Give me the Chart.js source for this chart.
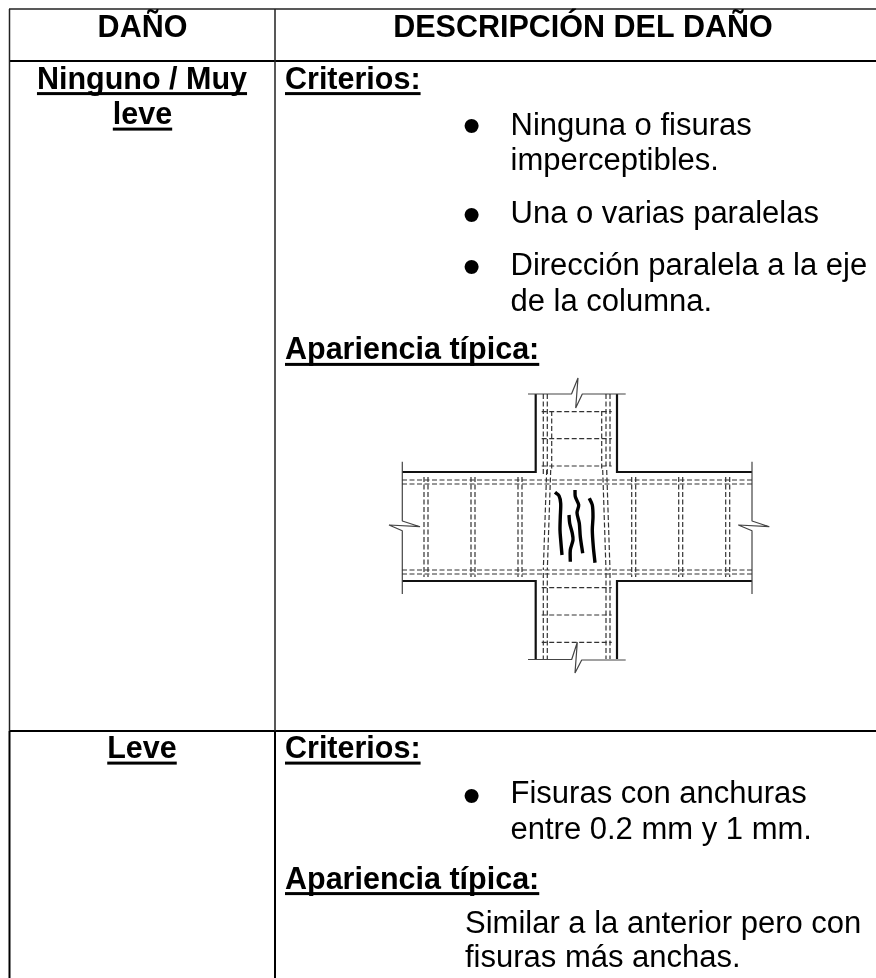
<!DOCTYPE html>
<html><head><meta charset="utf-8">
<style>html,body{margin:0;padding:0;background:#fff}#w{position:absolute;left:0;top:0;width:876px;height:978px}</style>
<script src="https://cdn.jsdelivr.net/npm/chart.js@4"></script></head>
<body><div id="w"><canvas id="c" width="876" height="978"></canvas></div>
<script>
// Table rules
const tableRulesHeavy = [
  [[9,61],[876,61]], [[9,731],[876,731]],
  [[9.5,731],[9.5,978]], [[275,731],[275,978]]
];
const tableRulesLight = [
  [[9,9],[876,9]], [[9.5,9],[9.5,731]], [[275,9],[275,731]]
];
// Thick concrete outline of the joint
const outlineThick = [
  [[402,472],[535.7,472],[535.7,394]],
  [[617,394],[617,472],[752,472]],
  [[402,581],[535.7,581],[535.7,659]],
  [[617,659],[617,581],[752,581]]
];
// Thin break lines
const breakLines = [
  [[528,394],[571.5,394],[578,378],[575.7,408],[582.3,394],[625.7,394]],
  [[528,659.5],[571.7,659.5],[577.3,642.3],[575,673],[581.7,660],[625.7,660]],
  [[402.3,461.7],[402.3,521],[420,526.7],[389,525],[402.3,530.7],[402.3,594]],
  [[752,461.7],[752,521],[769.3,526.7],[738.3,525],[752,530.7],[752,594]]
];
// Dashed reinforcement
const rebarDashed = [
  [[402,480],[752,480]],[[402,484],[752,484]],[[402,570],[752,570]],[[402,574],[752,574]],
  [[424,477],[424,577]],[[428,477],[428,577]],[[471,477],[471,577]],[[475,477],[475,577]],
  [[518,477],[518,577]],[[522,477],[522,577]],[[631.7,477],[631.7,577]],[[635.7,477],[635.7,577]],
  [[678.7,477],[678.7,577]],[[682.7,477],[682.7,577]],[[725.7,477],[725.7,577]],[[729.7,477],[729.7,577]],
  [[543.3,394],[543.3,476]],[[547.3,394],[547.3,476]],[[551.7,411],[551.7,470]],
  [[601.7,411],[601.7,470]],[[606,394],[606,466]],[[610,394],[610,466]],
  [[546.7,470],[543.3,570]],[[550.7,470],[547.3,570]],[[602.7,470],[606,570]],[[606.7,470],[610,570]],
  [[543.3,573],[543.3,659]],[[547.3,573],[547.3,659]],[[606,573],[606,659]],[[610,573],[610,659]],
  [[541.7,411.7],[611.7,411.7]],[[541.7,438.7],[611.7,438.7]],[[541.7,466],[611.7,466]],
  [[541.7,587.7],[611.7,587.7]],[[541.7,615],[611.7,615]],[[541.7,642.3],[611.7,642.3]]
];
// Hand-drawn cracks
const cracks = [
  [[555,492.3],[559,495.7],[560.7,503.3],[560.3,516.7],[560,530],[560.7,540],[562,555]],
  [[569,515],[569.7,523.3],[572.3,533.3],[573,540],[570.3,550],[570.3,561.7]],
  [[575,490],[575.3,496.7],[578.7,505],[577,512.7],[579.3,523.3],[580.3,536.7],[582.7,553.3]],
  [[589.3,498.3],[592.3,505],[593,516.7],[592.3,530],[593.3,546.7],[595,562.7]]
];
// Text content
const headerTexts = ["DAÑO","DESCRIPCIÓN DEL DAÑO"];
const damageLabels = ["Ninguno / Muy","leve","Leve"];
const sectionLabels = ["Criterios:","Apariencia típica:"];
const bodyLines = ["Ninguna o fisuras","imperceptibles.","Una o varias paralelas","Dirección paralela a la eje","de la columna.","Fisuras con anchuras","entre 0.2 mm y 1 mm.","Similar a la anterior pero con","fisuras más anchas."];
const bulletMark = "•";
// Text placement (baseline y, x anchor)
const textLayout = [
  {t:headerTexts[0],x:142.5,y:36.7,a:"center",s:"h"},
  {t:headerTexts[1],x:583,y:36.7,a:"center",s:"h"},
  {t:damageLabels[0],x:142,y:88.5,a:"center",s:"l",u:1},
  {t:damageLabels[1],x:142.5,y:124,a:"center",s:"l",u:1},
  {t:damageLabels[2],x:142,y:758,a:"center",s:"l",u:1},
  {t:sectionLabels[0],x:285,y:88.5,a:"left",s:"l",u:1},
  {t:sectionLabels[1],x:285,y:359.3,a:"left",s:"l",u:1},
  {t:sectionLabels[0],x:285,y:758,a:"left",s:"l",u:1},
  {t:sectionLabels[1],x:285,y:888.5,a:"left",s:"l",u:1},
  {t:bulletMark,x:471.7,y:143.2,a:"center",s:"d"},
  {t:bodyLines[0],x:510.5,y:134.5,a:"left",s:"b"},
  {t:bodyLines[1],x:510.5,y:170,a:"left",s:"b"},
  {t:bulletMark,x:471.7,y:231.5,a:"center",s:"d"},
  {t:bodyLines[2],x:510.5,y:222.7,a:"left",s:"b"},
  {t:bulletMark,x:471.7,y:284.2,a:"center",s:"d"},
  {t:bodyLines[3],x:510.5,y:275,a:"left",s:"b"},
  {t:bodyLines[4],x:510.5,y:310.7,a:"left",s:"b"},
  {t:bulletMark,x:471.7,y:813.2,a:"center",s:"d"},
  {t:bodyLines[5],x:510.5,y:803.3,a:"left",s:"b"},
  {t:bodyLines[6],x:510.5,y:839.3,a:"left",s:"b"},
  {t:bodyLines[7],x:465,y:932.7,a:"left",s:"b"},
  {t:bodyLines[8],x:465,y:967.3,a:"left",s:"b"}
];
const fonts = {h:"bold 30.5px 'Liberation Sans'",l:"bold 30.5px 'Liberation Sans'",b:"31px 'Liberation Sans'",d:"52px 'Liberation Sans'"};

function ds(list,color,width,dash,tension,join){
  return list.map(seg=>({data:seg.map(p=>({x:p[0],y:p[1]})),showLine:true,pointRadius:0,borderColor:color,borderWidth:width,borderDash:dash||[],tension:tension||0,fill:false,clip:false,borderJoinStyle:join||'miter',borderCapStyle:'butt'}));
}
const textPlugin={id:'tableText',afterDatasetsDraw(ch){
  const c=ch.ctx,xs=ch.scales.x,ys=ch.scales.y;
  c.save();c.fillStyle='#000';c.textBaseline='alphabetic';
  textLayout.forEach(o=>{
    c.font=fonts[o.s];c.textAlign=o.a;
    const x=xs.getPixelForValue(o.x),y=ys.getPixelForValue(o.y);
    c.fillText(o.t,x,y);
    if(o.u){const w=c.measureText(o.t).width;const x0=o.a==='center'?x-w/2:x;c.fillRect(x0,y+3.6,w,3);}
  });
  c.restore();
}};
new Chart(document.getElementById('c'),{
  type:'scatter',
  data:{datasets:[
    ...ds(tableRulesLight,'#222',1.5),
    ...ds(tableRulesHeavy,'#000',2),
    ...ds(rebarDashed,'#333',1.2,[5,2.5]),
    ...ds(breakLines,'#444',1.2,null,0,'bevel'),
    ...ds(outlineThick,'#111',2.2),
    ...ds(cracks,'#000',3.4,null,0.3,'round')
  ]},
  options:{responsive:false,animation:false,parsing:false,
    layout:{padding:0},
    plugins:{legend:{display:false},tooltip:{enabled:false},title:{display:false}},
    scales:{
      x:{type:'linear',min:0,max:876,display:false},
      y:{type:'linear',min:0,max:978,reverse:true,display:false}
    }},
  plugins:[textPlugin]
});
</script></body></html>
